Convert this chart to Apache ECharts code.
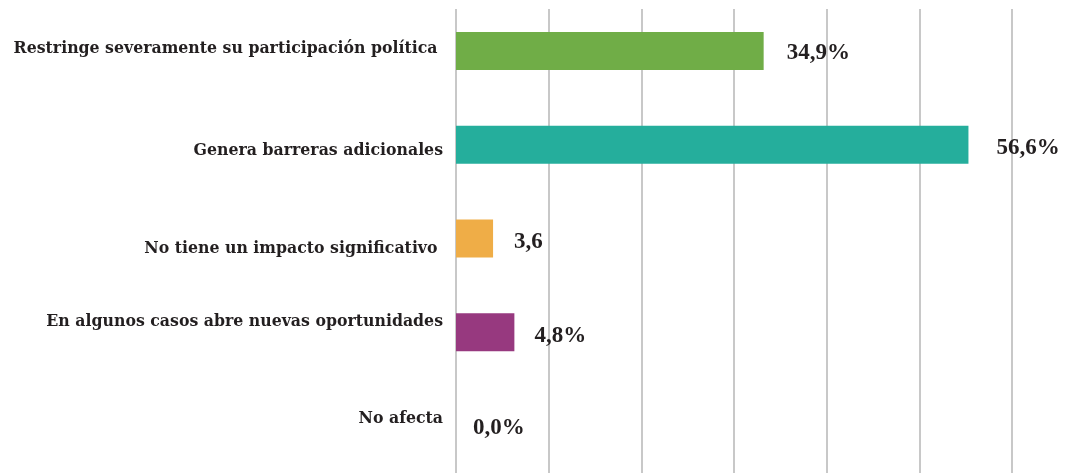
<!DOCTYPE html>
<html>
<head>
<meta charset="utf-8">
<script src="https://cdn.jsdelivr.net/npm/echarts@6/dist/echarts.min.js"></script>
<style>
html,body{margin:0;padding:0;background:#fff;}
#chart{width:1066px;height:473px;}
</style>
</head>
<body>
<div id="chart"></div>
<script>
const categories = [
  "Restringe severamente su participación política ",
  "Genera barreras adicionales",
  "No tiene un impacto significativo ",
  "En algunos casos abre nuevas oportunidades",
  "No afecta"
];
// bar lengths as drawn on the 0–60 axis
const barValues = [33.2, 55.3, 4.0, 6.3, 0];
// data labels as printed
const valueLabels = ["34,9%", "56,6%", "3,6", "4,8%", "0,0%"];
const axisMin = 0, axisMax = 60, axisStep = 10;

// styles
const barColors = ["#70AD47", "#25AE9C", "#EFAD47", "#97397F", "#999999"];
const catLabelShift = [-2, 6, 10, -10, -7];
const valLabelDx = [1, 6, -1, -2, -5];
const valLabelDy = [2, 3, 4, 4, 2];

const chart = echarts.init(document.getElementById('chart'), null, {renderer: 'canvas'});
const catFont = '"DejaVu Serif", "Liberation Serif", serif';
const valFont = '"Liberation Serif", "DejaVu Serif", serif';

const rich = {};
catLabelShift.forEach((s, i) => {
  rich['c' + i] = {
    color: '#231F20', fontFamily: catFont, fontWeight: 'bold', fontSize: 15.75,
    padding: s > 0 ? [2 * s, 0, 0, 0] : [0, 0, -2 * s, 0]
  };
});

chart.setOption({
  animation: false,
  backgroundColor: '#ffffff',
  grid: [
    {left: 456, right: 54, top: 4, bottom: -1, containLabel: false},
    {left: 456, right: 54, top: 9, bottom: -1, containLabel: false}
  ],
  xAxis: [{
    gridIndex: 0, type: 'value', min: axisMin, max: axisMax, interval: axisStep,
    axisLabel: {show: false}, axisTick: {show: false}, axisLine: {show: false},
    splitLine: {show: false}
  }, {
    gridIndex: 1, type: 'value', min: axisMin, max: axisMax, interval: axisStep,
    axisLabel: {show: false}, axisTick: {show: false}, axisLine: {show: false},
    splitLine: {show: true, lineStyle: {color: '#C8C8C8', width: 2}}
  }],
  yAxis: [{
    gridIndex: 0, type: 'category', data: categories, inverse: true,
    axisLine: {show: false}, axisTick: {show: false},
    axisLabel: {
      margin: 13,
      formatter: (v, i) => '{c' + i + '|' + v + '}',
      rich: rich
    }
  }, {
    gridIndex: 1, type: 'category', data: categories, show: false
  }],
  series: [{
    type: 'bar',
    xAxisIndex: 0, yAxisIndex: 0,
    barWidth: 38,
    z: 3,
    data: barValues.map((v, i) => ({
      value: v,
      itemStyle: {color: barColors[i]},
      label: {offset: [valLabelDx[i], valLabelDy[i]]}
    })),
    label: {
      show: true, position: 'right', distance: 22,
      formatter: p => valueLabels[p.dataIndex],
      color: '#231F20', fontFamily: valFont, fontWeight: 'bold', fontSize: 23
    }
  }]
});
</script>
</body>
</html>
